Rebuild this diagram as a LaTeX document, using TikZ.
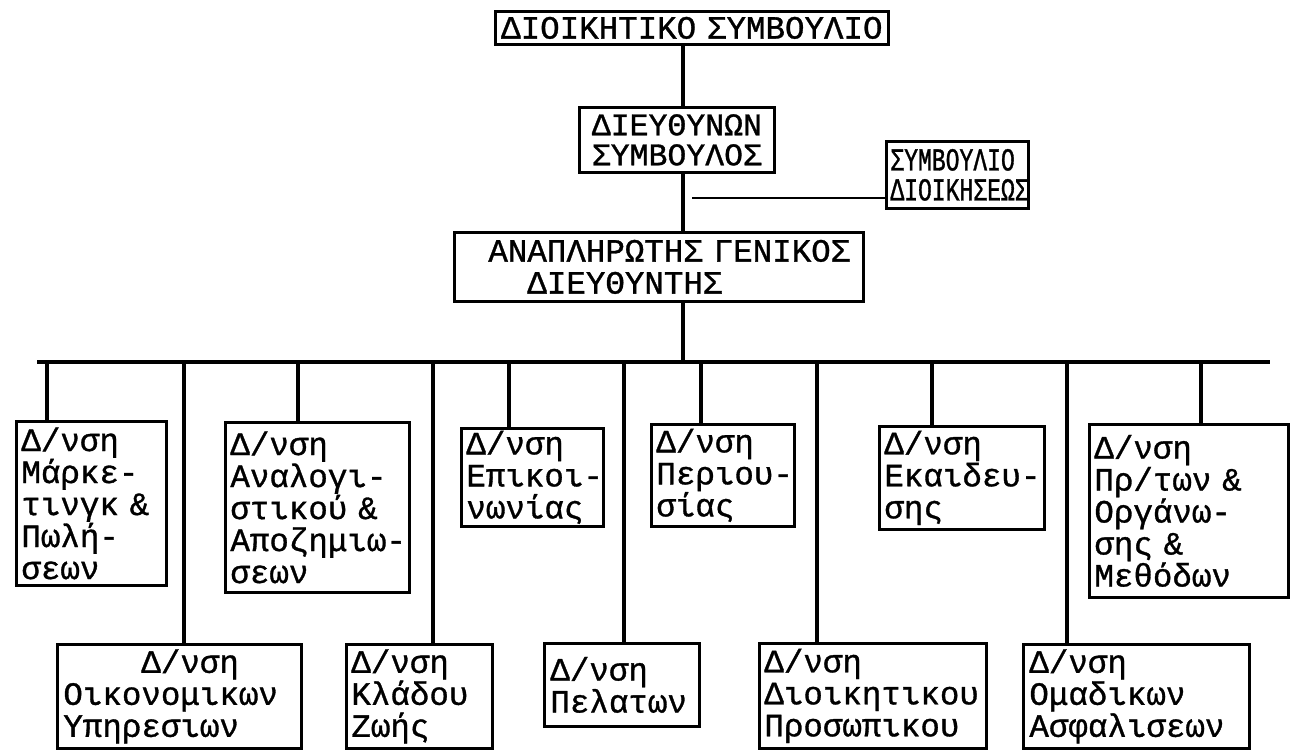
\documentclass[tikz,border=0pt]{standalone}
\usepackage{fontspec}
\newfontfamily\tw[FakeBold=1]{Liberation Mono}
\newfontfamily\twc[FakeBold=1,FakeStretch=0.72]{Liberation Mono}
\begin{document}
\begin{tikzpicture}[x=1pt,y=-1pt,
  box/.style={draw, line width=2.8pt, rectangle, inner sep=0pt, anchor=north west,
    font=\tw\fontsize{32.5}{32}\selectfont,
    execute at begin node={\hyphenpenalty=10000\exhyphenpenalty=10000}},
  lbox/.style={box, align=left},
  cbox/.style={box, align=center},
  link/.style={line width=3.1pt},
  thinlink/.style={line width=1.4pt}]
\useasboundingbox (0,0) rectangle (1291,750);

% upper hierarchy
\node[cbox, minimum width=393pt, minimum height=33pt, text width=393pt] (top) at (494,10) {ΔΙΟΙΚΗΤΙΚΟ~ΣΥΜΒΟΥΛΙΟ};
\node[cbox, minimum width=195pt, minimum height=65pt, text width=195pt,
  font=\tw\fontsize{31.5}{30}\selectfont] (ds) at (578,106) {ΔΙΕΥΘΥΝΩΝ\\ΣΥΜΒΟΥΛΟΣ};
\node[lbox, minimum width=142pt, minimum height=67pt, text width=134pt,
  font=\twc\fontsize{32}{30}\selectfont] (sd) at (885,140) {ΣΥΜΒΟΥΛΙΟ\\ΔΙΟΙΚΗΣΕΩΣ};
\node[lbox, minimum width=409pt, minimum height=69pt, text width=341pt] (ag) at (453,231)
  {ΑΝΑΠΛΗΡΩΤΗΣ~ΓΕΝΙΚΟΣ\\\hphantom{ΔΙ}ΔΙΕΥΘΥΝΤΗΣ};

% upper row of directorates
\node[lbox, minimum width=150pt, minimum height=164pt, text width=140pt] (m1) at (15,420)
  {Δ/νση\\Μάρκε-\\τινγκ~\&\\Πωλή-\\σεων};
\node[lbox, minimum width=184pt, minimum height=170pt, text width=174pt] (m2) at (224,421)
  {Δ/νση\\Αναλογι-\\στικού~\&\\Αποζημιω-\\σεων};
\node[lbox, minimum width=142pt, minimum height=98pt, text width=132pt] (m3) at (460,427)
  {Δ/νση\\Επικοι-\\νωνίας};
\node[lbox, minimum width=143pt, minimum height=102pt, text width=133pt] (m4) at (650,423)
  {Δ/νση\\Περιου-\\σίας};
\node[lbox, minimum width=165pt, minimum height=103pt, text width=155pt] (m5) at (878,425)
  {Δ/νση\\Εκαιδευ-\\σης};
\node[lbox, minimum width=199pt, minimum height=173pt, text width=189pt] (m6) at (1088,423)
  {Δ/νση\\Πρ/των~\&\\Οργάνω-\\σης~\&\\Μεθόδων};

% lower row of directorates
\node[lbox, minimum width=244pt, minimum height=104pt, text width=232pt] (l1) at (56,643)
  {\hphantom{ΔΔΔΔ}Δ/νση\\Οικονομικων\\Υπηρεσιων};
\node[lbox, minimum width=146pt, minimum height=104pt, text width=136pt] (l2) at (345,643)
  {Δ/νση\\Κλάδου\\Ζωής};
\node[lbox, minimum width=155pt, minimum height=83pt, text width=143pt] (l3) at (543,642)
  {Δ/νση\\Πελατων};
\node[lbox, minimum width=227pt, minimum height=105pt, text width=217pt] (l4) at (758,642)
  {Δ/νση\\Διοικητικου\\Προσωπικου};
\node[lbox, minimum width=226pt, minimum height=104pt, text width=214pt] (l5) at (1022,643)
  {Δ/νση\\Ομαδικων\\Ασφαλισεων};

% trunk
\coordinate (t) at (683,362);
\draw[link] (t |- top.south) -- (t |- ds.north);
\draw[link] (t |- ds.south) -- (t |- ag.north);
\draw[link] (t |- ag.south) -- (t);
\coordinate (sdl) at (692,198);
\draw[thinlink] (sdl) -- (sdl -| sd.west);

% bus
\coordinate (busL) at (37,362);
\coordinate (busR) at (1270,362);
\draw[link] (busL) -- (busR);

% drops to upper row
\foreach \x/\n in {47/m1, 298/m2, 509/m3, 701/m4, 932/m5, 1201/m6} {
  \coordinate (j\n) at (\x,362);
  \draw[link] (j\n) -- (j\n |- \n.north);
}
% long drops to lower row
\foreach \x/\n in {184/l1, 433/l2, 624/l3, 817/l4, 1067/l5} {
  \coordinate (j\n) at (\x,362);
  \draw[link] (j\n) -- (j\n |- \n.north);
}
\end{tikzpicture}
\end{document}
